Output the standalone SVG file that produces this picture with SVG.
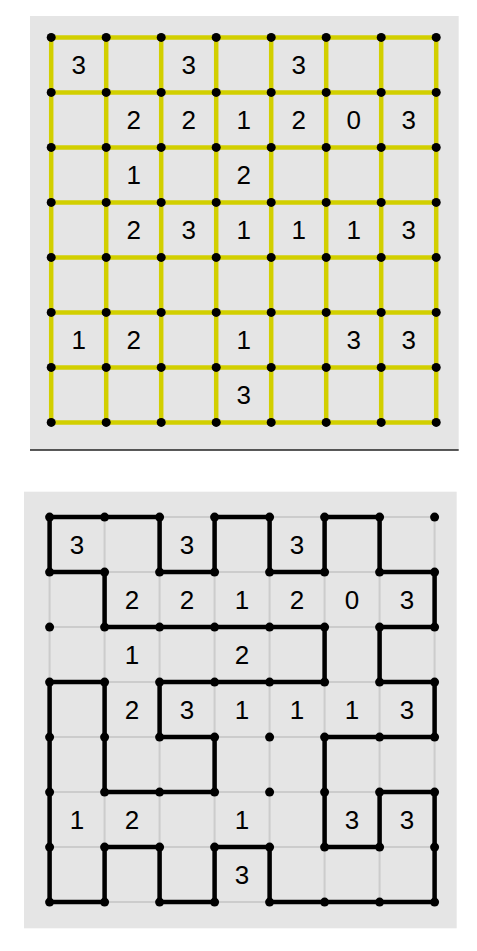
<svg xmlns="http://www.w3.org/2000/svg" width="477" height="951" viewBox="0 0 477 951">
<style>
.bg{fill:#e5e5e5}
.yl{stroke:#d2cf00;stroke-width:4.5;fill:none}
.gl{stroke:#cccccc;stroke-width:2;fill:none}
.loop{stroke:#000;stroke-width:4.5;fill:none;stroke-linejoin:round}
.dot{fill:#000}
.num{font-family:"Liberation Sans",Arial,sans-serif;font-size:26px;fill:#000;text-anchor:middle}
</style>
<defs>
<circle id="d" r="4.5" class="dot"/>
<g id="numbers">
<text class="num" x="27.5" y="37">3</text>
<text class="num" x="137.5" y="37">3</text>
<text class="num" x="247.5" y="37">3</text>
<text class="num" x="82.5" y="92">2</text>
<text class="num" x="137.5" y="92">2</text>
<text class="num" x="192.5" y="92">1</text>
<text class="num" x="247.5" y="92">2</text>
<text class="num" x="302.5" y="92">0</text>
<text class="num" x="357.5" y="92">3</text>
<text class="num" x="82.5" y="147">1</text>
<text class="num" x="192.5" y="147">2</text>
<text class="num" x="82.5" y="202">2</text>
<text class="num" x="137.5" y="202">3</text>
<text class="num" x="192.5" y="202">1</text>
<text class="num" x="247.5" y="202">1</text>
<text class="num" x="302.5" y="202">1</text>
<text class="num" x="357.5" y="202">3</text>
<text class="num" x="27.5" y="312">1</text>
<text class="num" x="82.5" y="312">2</text>
<text class="num" x="192.5" y="312">1</text>
<text class="num" x="302.5" y="312">3</text>
<text class="num" x="357.5" y="312">3</text>
<text class="num" x="192.5" y="367">3</text>
</g>
<path id="grid" d="M0,0H385M0,55H385M0,110H385M0,165H385M0,220H385M0,275H385M0,330H385M0,385H385M0,0V385M55,0V385M110,0V385M165,0V385M220,0V385M275,0V385M330,0V385M385,0V385"/>
<g id="dots">
<use href="#d" x="0" y="0"/><use href="#d" x="55" y="0"/><use href="#d" x="110" y="0"/><use href="#d" x="165" y="0"/><use href="#d" x="220" y="0"/><use href="#d" x="275" y="0"/><use href="#d" x="330" y="0"/><use href="#d" x="385" y="0"/>
<use href="#d" x="0" y="55"/><use href="#d" x="55" y="55"/><use href="#d" x="110" y="55"/><use href="#d" x="165" y="55"/><use href="#d" x="220" y="55"/><use href="#d" x="275" y="55"/><use href="#d" x="330" y="55"/><use href="#d" x="385" y="55"/>
<use href="#d" x="0" y="110"/><use href="#d" x="55" y="110"/><use href="#d" x="110" y="110"/><use href="#d" x="165" y="110"/><use href="#d" x="220" y="110"/><use href="#d" x="275" y="110"/><use href="#d" x="330" y="110"/><use href="#d" x="385" y="110"/>
<use href="#d" x="0" y="165"/><use href="#d" x="55" y="165"/><use href="#d" x="110" y="165"/><use href="#d" x="165" y="165"/><use href="#d" x="220" y="165"/><use href="#d" x="275" y="165"/><use href="#d" x="330" y="165"/><use href="#d" x="385" y="165"/>
<use href="#d" x="0" y="220"/><use href="#d" x="55" y="220"/><use href="#d" x="110" y="220"/><use href="#d" x="165" y="220"/><use href="#d" x="220" y="220"/><use href="#d" x="275" y="220"/><use href="#d" x="330" y="220"/><use href="#d" x="385" y="220"/>
<use href="#d" x="0" y="275"/><use href="#d" x="55" y="275"/><use href="#d" x="110" y="275"/><use href="#d" x="165" y="275"/><use href="#d" x="220" y="275"/><use href="#d" x="275" y="275"/><use href="#d" x="330" y="275"/><use href="#d" x="385" y="275"/>
<use href="#d" x="0" y="330"/><use href="#d" x="55" y="330"/><use href="#d" x="110" y="330"/><use href="#d" x="165" y="330"/><use href="#d" x="220" y="330"/><use href="#d" x="275" y="330"/><use href="#d" x="330" y="330"/><use href="#d" x="385" y="330"/>
<use href="#d" x="0" y="385"/><use href="#d" x="55" y="385"/><use href="#d" x="110" y="385"/><use href="#d" x="165" y="385"/><use href="#d" x="220" y="385"/><use href="#d" x="275" y="385"/><use href="#d" x="330" y="385"/><use href="#d" x="385" y="385"/>
</g>
</defs>

<g id="puzzle">
<rect class="bg" x="30" y="16" width="428.7" height="434"/>
<line x1="30" y1="450" x2="458.7" y2="450" stroke="#222" stroke-width="1.5"/>
<g transform="translate(51.2,37.4)">
<use href="#grid" class="yl"/>
<use href="#dots"/>
<use href="#numbers"/>
</g>
</g>

<g id="solution">
<rect class="bg" x="24" y="491.7" width="432.7" height="436.6"/>
<g transform="translate(49.6,517.1)">
<use href="#grid" class="gl"/>
<g id="connectors">
<path class="loop" d="M0,0H110V55H165V0H220V55H275V0H330V55H385V110H330V165H385V220H275V330H330V275H385V385H220V330H165V385H110V330H55V385H0V165H55V275H165V220H110V165H275V110H55V55H0Z"/>
</g>
<use href="#dots"/>
<use href="#numbers"/>
</g>
</g>
</svg>
